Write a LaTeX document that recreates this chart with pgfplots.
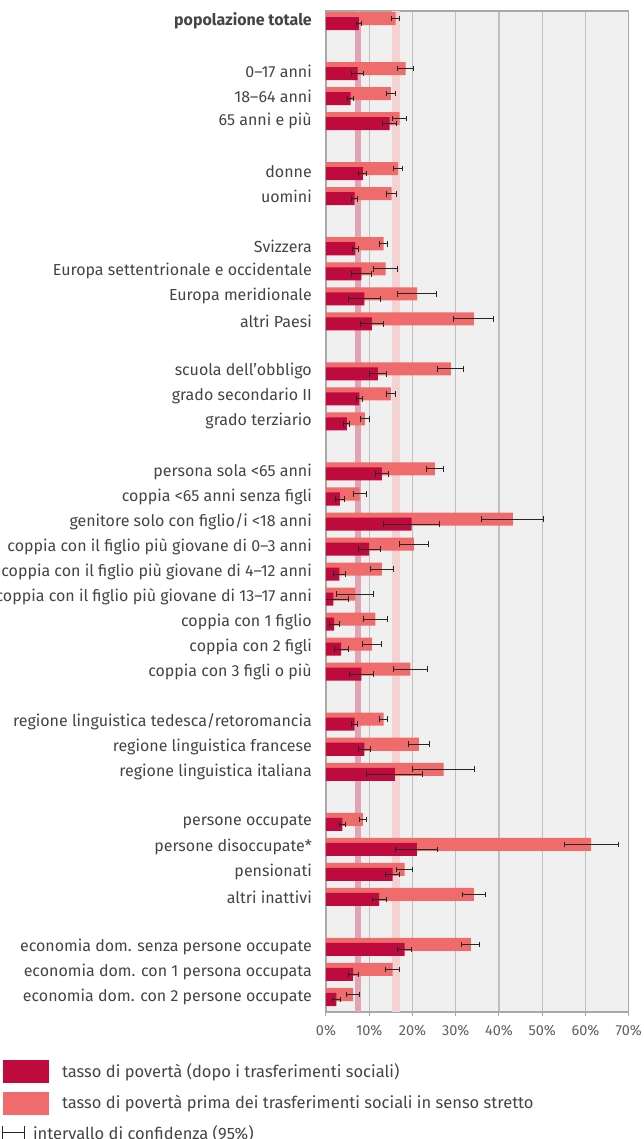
\documentclass[border=0pt]{standalone}
\usepackage{fontspec}
\setmainfont{Fira Sans}
\usepackage{pgfplots}
\pgfplotsset{compat=1.18}
\usepackage{pgfplotstable}

\definecolor{dopo}{HTML}{BE0A3C}
\definecolor{prima}{HTML}{F06B6B}
\definecolor{bandDopo}{HTML}{E0A4B5}
\definecolor{bandPrima}{HTML}{F5D2D2}
\definecolor{fondo}{HTML}{F0F0F0}
\definecolor{griglia}{HTML}{BFBFBF}
\definecolor{bordo}{HTML}{A8A8A8}
\definecolor{testo}{HTML}{444444}
\definecolor{tick}{HTML}{606060}

% idx = riga dall'alto; prima/dopo in %, perr/derr = semiampiezza IC 95%
\pgfplotstableread{
idx prima perr dopo derr
0  16.1 0.85  7.6 0.65
2  18.4 1.8   7.3 1.35
3  15.0 1.0   5.7 0.65
4  17.0 1.7  14.7 1.7
6  16.7 1.1   8.5 0.95
7  15.2 1.1   6.6 0.6
9  13.3 0.85  6.8 0.7
10 13.8 2.75  8.2 2.25
11 21.1 4.5   8.9 3.65
12 34.2 4.6  10.6 2.7
14 28.9 3.0  12.0 1.95
15 15.0 1.05  7.7 0.75
16  9.0 0.95  4.8 0.65
18 25.2 2.05 12.9 1.55
19  7.8 1.5   3.2 1.0
20 43.2 7.15 19.8 6.4
21 20.3 3.3  10.0 2.55
22 12.9 2.6   3.1 1.35
23  6.8 4.3   1.7 3.5
24 11.4 2.8   1.9 1.15
25 10.6 2.15  3.5 1.6
26 19.5 3.9   8.2 2.7
28 13.3 1.0   6.6 0.65
29 21.5 2.4   8.9 1.45
30 27.2 7.2  15.9 6.45
32  8.5 0.85  3.8 0.7
33 61.3 6.25 21.0 4.9
34 18.2 1.85 15.4 1.7
35 34.2 2.65 12.3 1.6
37 33.5 2.1  18.2 1.65
38 15.4 1.6   6.3 1.15
39  6.3 1.5   2.4 0.9
}\dati

\newcommand{\lab}{\fontsize{16}{19}\selectfont}

\begin{document}
\begin{tikzpicture}
\begin{axis}[
  at={(0,0)}, anchor=south west,
  scale only axis, width=302.7pt, height=1001pt,
  xmin=0, xmax=70, ymin=-0.4, ymax=39.6, y dir=reverse,
  axis background/.style={fill=fondo},
  axis line style={bordo, line width=1.3pt},
  xmajorgrids, major grid style={griglia, line width=1.1pt},
  xtick={0,10,...,70},
  xticklabel={\pgfmathprintnumber{\tick}\%},
  /pgf/number format/assume math mode=true,
  xtick pos=bottom, tick align=outside, major tick length=4pt,
  xtick style={bordo, line width=1pt},
  x tick label style={font=\fontsize{14.5}{17}\selectfont, text=tick, inner sep=0pt, yshift=-9pt},
  ytick={0,2,3,4,6,7,9,10,11,12,14,15,16,18,19,20,21,22,23,24,25,26,28,29,30,32,33,34,35,37,38,39},
  yticklabels={\textbf{popolazione totale},
    0–17 anni, 18–64 anni, 65 anni e più,
    donne, uomini,
    Svizzera, Europa settentrionale e occidentale, Europa meridionale, altri Paesi,
    scuola dell’obbligo, grado secondario II, grado terziario,
    persona sola <65 anni, coppia <65 anni senza figli, genitore solo con figlio/i <18 anni,
    coppia con il figlio più giovane di 0–3 anni, coppia con il figlio più giovane di 4–12 anni,
    coppia con il figlio più giovane di 13–17 anni, coppia con 1 figlio, coppia con 2 figli,
    coppia con 3 figli o più,
    regione linguistica tedesca/retoromancia, regione linguistica francese, regione linguistica italiana,
    persone occupate, persone disoccupate*, pensionati, altri inattivi,
    economia dom. senza persone occupate, economia dom. con 1 persona occupata,
    economia dom. con 2 persone occupate},
  ytick style={draw=none},
  y tick label style={font=\lab, text=testo, inner sep=0pt, xshift=-10pt},
  legend style={at={(-1.070,-0.048)}, anchor=north west, draw=none, fill=none,
    inner sep=0pt, row sep=9pt, font=\fontsize{16.5}{19}\selectfont, text=testo,
    cells={anchor=west}, /tikz/every odd column/.append style={column sep=12pt}},
]
% bande della popolazione totale
\addplot[forget plot, fill=bandDopo, draw=none] coordinates {(6.6,-0.4) (8.2,-0.4) (8.2,39.6) (6.6,39.6)} -- cycle;
\addplot[forget plot, fill=bandPrima, draw=none] coordinates {(15.2,-0.4) (17.1,-0.4) (17.1,39.6) (15.2,39.6)} -- cycle;

% barre con intervallo di confidenza
\addplot[forget plot, xbar, bar width=0.52, bar shift=0pt, fill=prima, draw=none,
  error bars/.cd, x dir=both, x explicit,
  error bar style={line width=1pt, draw=black!85},
  error mark options={rotate=90, line width=1pt, mark size=2.8pt, draw=black!85}]
  table[x=prima, y expr=\thisrow{idx}-0.1, x error=perr] {\dati};
\addplot[forget plot, xbar, bar width=0.52, bar shift=0pt, fill=dopo, draw=none,
  error bars/.cd, x dir=both, x explicit,
  error bar style={line width=1pt, draw=black!85},
  error mark options={rotate=90, line width=1pt, mark size=2.8pt, draw=black!85}]
  table[x=dopo, y expr=\thisrow{idx}+0.1, x error=derr] {\dati};

\addlegendimage{legend image code/.code={\fill[dopo] (0pt,-11pt) rectangle (45pt,11pt);}}
\addlegendentry{tasso di povertà (dopo i trasferimenti sociali)}
\addlegendimage{legend image code/.code={\fill[prima] (0pt,-11pt) rectangle (45pt,11pt);}}
\addlegendentry{tasso di povertà prima dei trasferimenti sociali in senso stretto}
\addlegendimage{legend image code/.code={\draw[line width=1pt, black!85] (0pt,-7pt) -- (0pt,7pt) (0pt,0pt) -- (22pt,0pt) (22pt,-7pt) -- (22pt,7pt);}}
\addlegendentry{\hspace*{-29pt}intervallo di confidenza (95\%)}
\end{axis}
\pgfresetboundingbox
\path[use as bounding box] (-326pt,-127pt) rectangle (318pt,1012pt);
\end{tikzpicture}
\end{document}
